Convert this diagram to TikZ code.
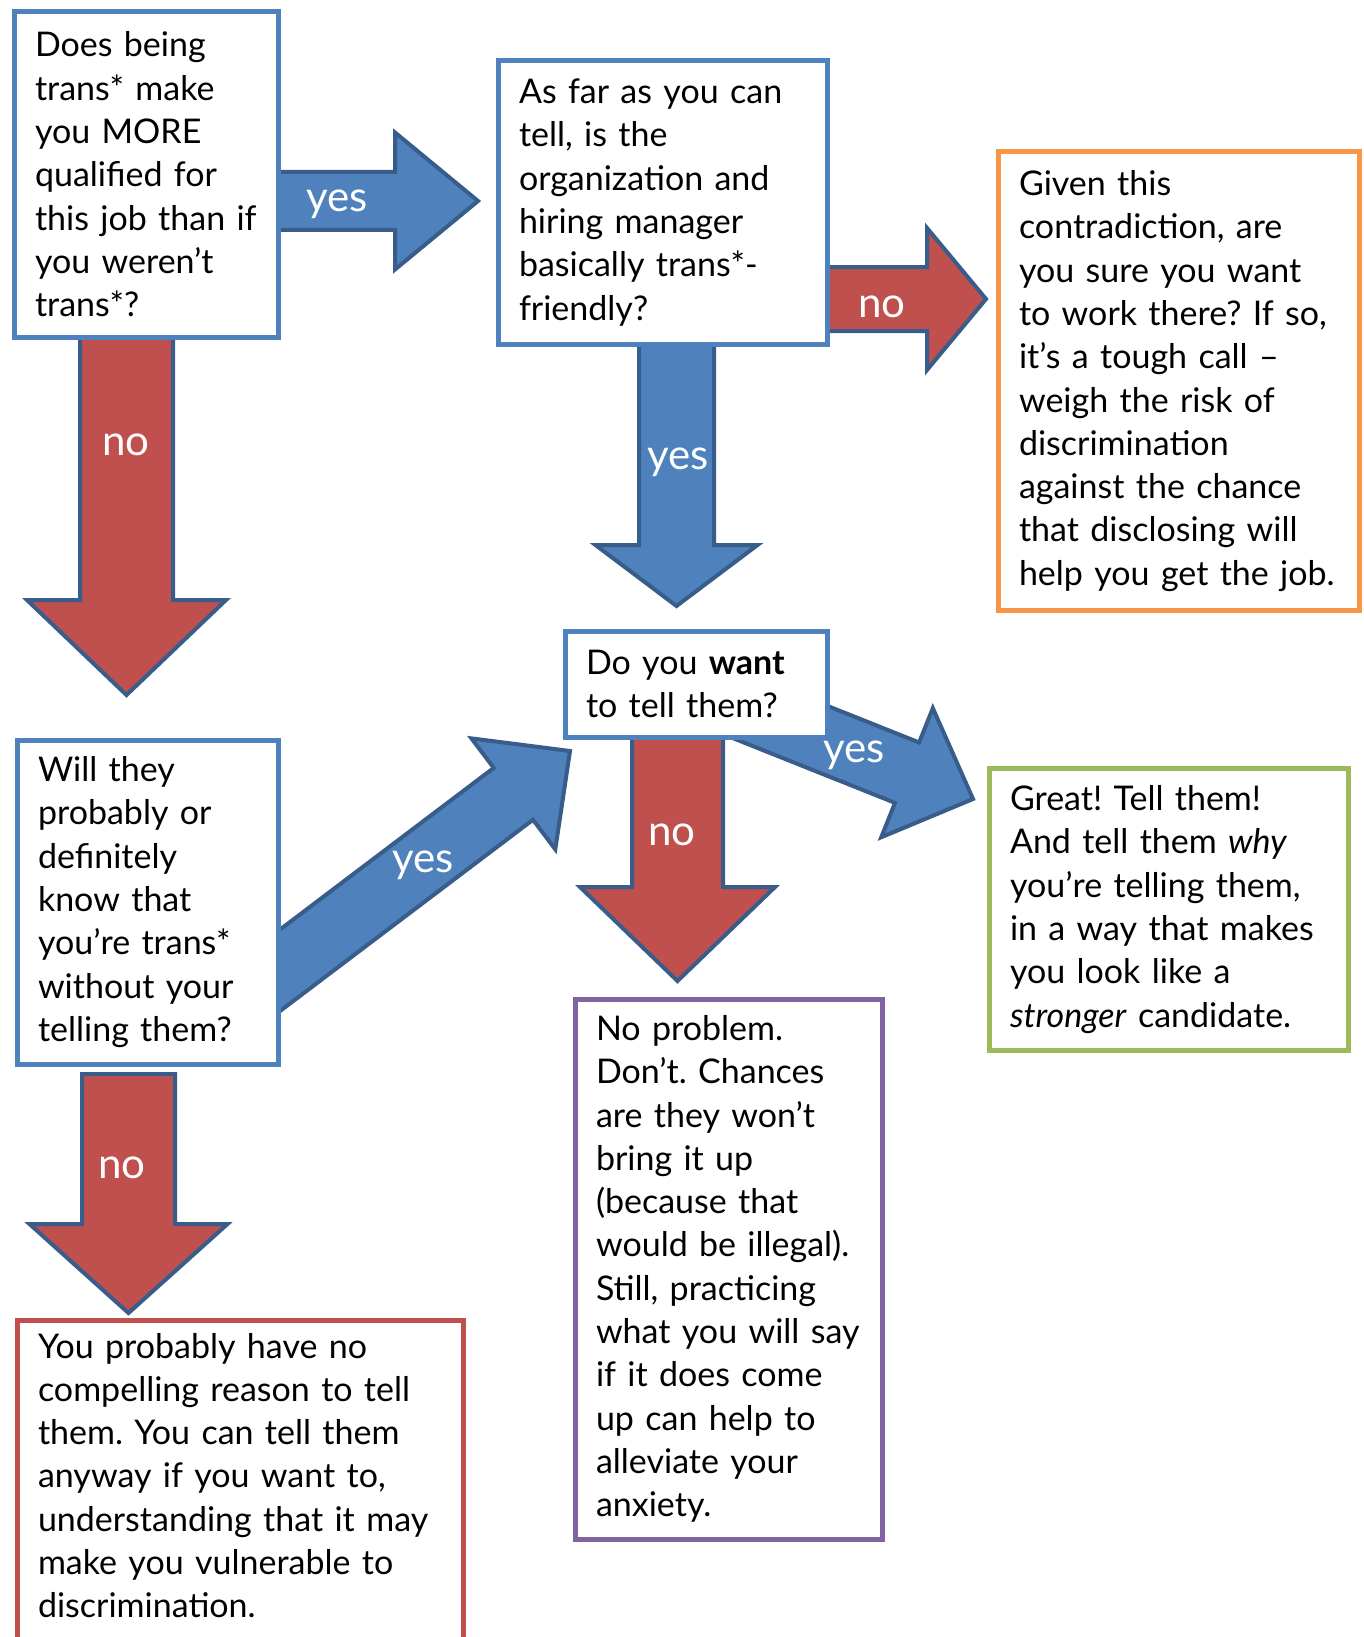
\documentclass[tikz,border=0pt]{standalone}
\usepackage{fontspec}
\setmainfont{Lato}
\frenchspacing
\usetikzlibrary{calc,backgrounds}

\definecolor{qblue}{HTML}{4F81BD}
\definecolor{edgeblue}{HTML}{385D8A}
\definecolor{nored}{HTML}{C0504D}
\definecolor{qorange}{HTML}{F79646}
\definecolor{qgreen}{HTML}{9BBB59}
\definecolor{qpurple}{HTML}{8064A2}

% fat arrow: fill, tail, tip, half shaft, half head, head length
\newcommand{\fatarrow}[6]{%
  \coordinate (hb) at ($(#3)!#6!(#2)$);
  \filldraw[draw=edgeblue, line width=2pt, line join=miter, fill=#1]
    ($(#2)!#4!90:(#3)$) -- ($(hb)!#4!-90:(#2)$) -- ($(hb)!#5!-90:(#2)$) -- (#3)
    -- ($(hb)!#5!90:(#2)$) -- ($(hb)!#4!90:(#2)$) -- ($(#2)!#4!-90:(#3)$) -- cycle;
}

\begin{document}
\begin{tikzpicture}[x=0.5pt, y=-0.5pt,
box/.style={draw, line width=2.5pt, fill=white, anchor=north west, align=left,
  inner xsep=10.5pt, inner ysep=0pt, font=\fontsize{17}{21.65}\selectfont},
lbl/.style={text=white, anchor=base, inner sep=0pt, font=\fontsize{21}{21}\selectfont}]

\useasboundingbox (0,0) rectangle (1364,1637);

\node (more) [box, draw=qblue, text width=111pt, minimum width=132pt, minimum height=162.5pt] at (11.5,9.5)
  {Does being\\trans* make\\you MORE\\qualified for\\this job than if\\you weren’t\\trans*?};
\node (friendly) [box, draw=qblue, text width=143.5pt, minimum width=164.5pt, minimum height=141.5pt] at (495.5,58.5)
  {As far as you can\\tell, is the\\organization and\\hiring manager\\basically trans*-\\friendly?};
\node (contra) [box, draw=qorange, text width=159.5pt, minimum width=180.5pt, minimum height=229pt] at (995.5,149.5)
  {Given this\\contradiction, are\\you sure you want\\to work there? If so,\\it’s a tough call –\\weigh the risk of\\discrimination\\against the chance\\that disclosing will\\help you get the job.};
\node (want) [box, draw=qblue, text width=110pt, minimum width=131pt, minimum height=53pt] at (562.5,628.5)
  {Do you \textbf{want}\\to tell them?};
\node (know) [box, draw=qblue, text width=109.5pt, minimum width=130.5pt, minimum height=162pt] at (14.5,737.5)
  {Will they\\probably or\\definitely\\know that\\you’re trans*\\without your\\telling them?};
\node (great) [box, draw=qgreen, text width=158.5pt, minimum width=179.5pt, minimum height=141pt] at (986.5,766)
  {Great! Tell them!\\And tell them \textit{why}\\you’re telling them,\\in a way that makes\\you look like a\\\textit{stronger} candidate.};
\node (noreason) [box, draw=nored, text width=202pt, minimum width=223pt, inner ysep=6.5pt] at (14.5,1317.5)
  {You probably have no\\compelling reason to tell\\them. You can tell them\\anyway if you want to,\\understanding that it may\\make you vulnerable to\\discrimination.\\[40pt]\mbox{}};
\node (noproblem) [box, draw=qpurple, text width=132.5pt, minimum width=153.5pt, minimum height=270pt] at (572.5,996.5)
  {No problem.\\Don’t. Chances\\are they won’t\\bring it up\\(because that\\would be illegal).\\Still, practicing\\what you will say\\if it does come\\up can help to\\alleviate your\\anxiety.};

\coordinate (yes1tip) at (478,201);
\coordinate (no1tip) at (986,299);
\coordinate (no2tip) at (126.5,695);
\coordinate (yes2tip) at (676.5,606);
\coordinate (yes3tail) at (250,993);
\coordinate (yes3tip) at (570,751);
\coordinate (no3tip) at (677.5,981);
\coordinate (yes4tail) at (700,690);
\coordinate (yes4tip) at (973,799);
\coordinate (no4tail) at (128.5,1074);
\coordinate (no4tip) at (128.5,1313);

\begin{scope}[on background layer]
\fill[white] (0,0) rectangle (1364,1637);
\fatarrow{qblue}{more.center |- yes1tip}{yes1tip}{14.5pt}{34.25pt}{41.5pt}
\fatarrow{nored}{friendly.center |- no1tip}{no1tip}{16pt}{35.5pt}{29.5pt}
\fatarrow{nored}{more.center -| no2tip}{no2tip}{23.25pt}{49.75pt}{47.5pt}
\fatarrow{qblue}{friendly.center -| yes2tip}{yes2tip}{18.75pt}{40.5pt}{30.5pt}
\fatarrow{qblue}{yes3tail}{yes3tip}{16.25pt}{34.75pt}{35.5pt}
\fatarrow{nored}{want.center -| no3tip}{no3tip}{22.75pt}{48.75pt}{47pt}
\fatarrow{qblue}{yes4tail}{yes4tip}{16.25pt}{34.75pt}{35.5pt}
\fatarrow{nored}{no4tail}{no4tip}{23.25pt}{49.5pt}{44.5pt}
\end{scope}

\node (yes1) [lbl] at (337,212) {yes};
\node (no1) [lbl] at (882,317) {no};
\node (no2) [lbl] at (126,455) {no};
\node (yes2) [lbl] at (678,469) {yes};
\node (yes3) [lbl] at (423,872) {yes};
\node (no3) [lbl] at (672,845) {no};
\node (yes4) [lbl] at (854,762) {yes};
\node (no4) [lbl] at (122,1178) {no};

\end{tikzpicture}
\end{document}
